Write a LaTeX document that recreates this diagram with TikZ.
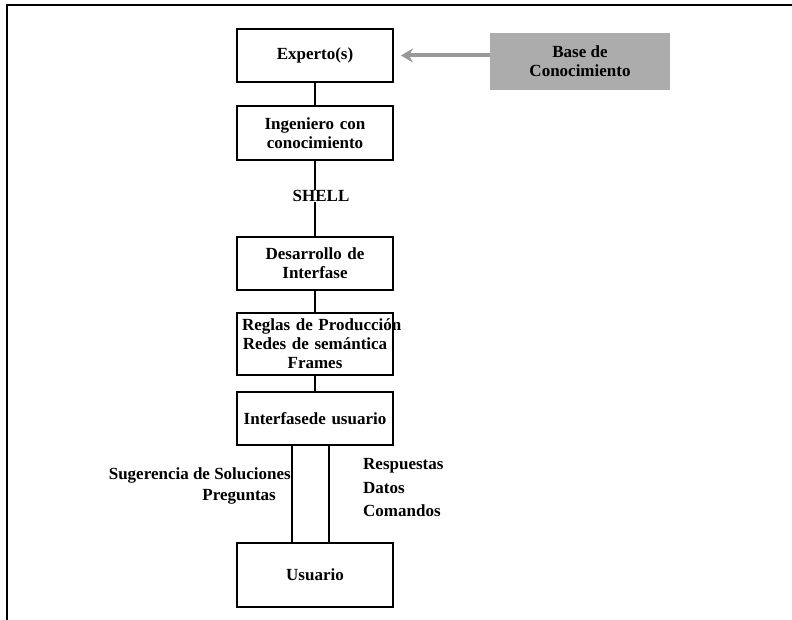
\documentclass[tikz,border=0pt]{standalone}
\usepackage{fontspec}
\setmainfont{Liberation Serif}
\usetikzlibrary{arrows.meta}
\begin{document}
\begin{tikzpicture}[x=1pt,y=-1pt,
  every node/.style={font=\bfseries\fontsize{17}{19}\selectfont},
  stage/.style={draw, line width=1.9pt, minimum width=156pt, text width=146pt,
    inner xsep=5pt, inner ysep=2pt, align=center},
  link/.style={line width=1.5pt},
  note/.style={inner sep=0pt},
  source/.style={fill=gray!65, minimum width=180pt, minimum height=57pt,
    align=center, inner sep=2pt},
  feed/.style={draw=gray!80, line width=4pt,
    -{Stealth[length=12pt,width=14pt]}, shorten >=7pt},
]
\useasboundingbox (0,0) rectangle (792,620);

% page frame
\draw[line width=2.6pt] (7,620) -- (7,5) -- (792,5);

% main chain of stages
\node[stage, minimum height=53pt] (experto)    at (315,55.5) {Experto(s)};
\node[stage, minimum height=54pt] (ingeniero)  at (315,133)  {Ingeniero con\\conocimiento};
\node[note]                       (shell)      at (321,196)  {SHELL};
\node[stage, minimum height=53pt] (desarrollo) at (315,263.5){Desarrollo de\\Interfase};
\node[stage, minimum height=62pt] (reglas)     at (315,344)
  {\mbox{Reglas de Producción}\\\mbox{Redes de semántica}\\Frames};
\node[stage, minimum height=53pt] (interfase)  at (315,418.5){Interfasede usuario};
\node[stage, minimum height=64pt] (usuario)    at (315,575)  {Usuario};

% knowledge base feeding the experts
\node[source] (base) at (580,61.5) {Base de\\Conocimiento};
\draw[feed] (base.west |- experto.east) -- (experto.east);

% connectors
\draw[link] (experto) -- (ingeniero);
\draw[link] (ingeniero.south) -- (ingeniero.south |- shell.north);
\draw[link] (desarrollo.north |- shell.south) -- (desarrollo.north);
\draw[link] (desarrollo) -- (reglas);
\draw[link] (reglas) -- (interfase);
\draw[link, line width=1.8pt] ([xshift=-23pt]interfase.south) -- ([xshift=-23pt]usuario.north);
\draw[link, line width=1.8pt] ([xshift=14pt]interfase.south) -- ([xshift=14pt]usuario.north);

% dialogue labels
\node[note, anchor=east] (sugerencia) at (291,475) {Sugerencia de Soluciones};
\node[note, anchor=east] (preguntas)  at (276,497) {Preguntas};
\node[note, anchor=west, align=left, font=\bfseries\fontsize{17}{23.5}\selectfont]
  (respuestas) at (363,488) {Respuestas\\Datos\\Comandos};
\end{tikzpicture}
\end{document}
